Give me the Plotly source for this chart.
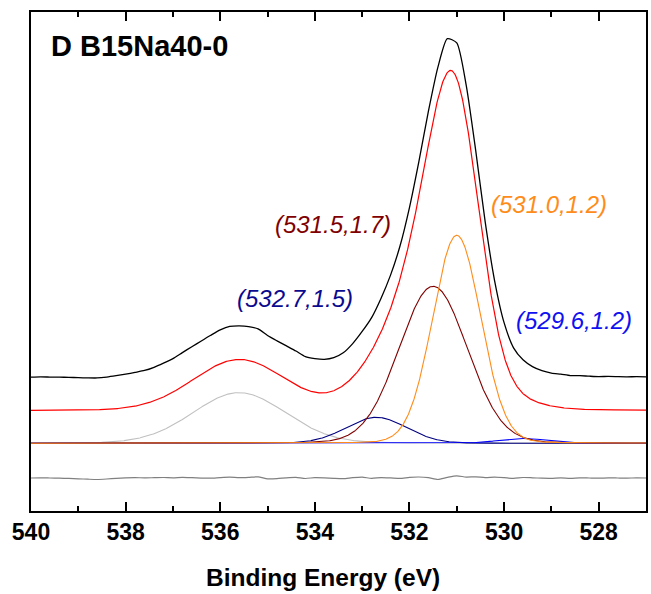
import numpy as np
import plotly.graph_objects as go

# ---- O 1s peak fit parameters: centre (eV), FWHM (eV), height (a.u.) ----
peak_centres = [535.6, 532.7, 529.6, 531.5, 531.0]
peak_fwhm = [2.3, 1.5, 1.2, 1.7, 1.2]
peak_heights = [50.7, 26.0, 4.8, 157.0, 208.0]
peak_colors = ["#C0C0C0", "#000080", "#0000FF", "#800000", "#FF8C1A"]
lorentz_fraction = 0.05

# labelled components: text, colour, label position (eV, a.u.)
label_texts = ["(532.7,1.5)", "(531.5,1.7)", "(531.0,1.2)", "(529.6,1.2)"]
label_colors = ["#0A0A8F", "#7F0000", "#FF8C1A", "#1010F0"]
label_x = [534.42, 533.62, 529.05, 528.52]
label_y = [145.3, 219.3, 239.3, 123.3]

# residual (measured - fit), sampled every 0.2 eV from 540.0 down to 527.0
residual = [
    0.0, 0.2, 0.0, -0.2, -0.4, -0.8, -1.2, -1.5, -1.0, -0.3,
    0.2, 0.4, 0.1, 0.3, 0.5, 0.2, 0.6, 0.3, -0.1, -0.2,
    0.4, 0.8, 0.3, 0.6, 1.2, -0.8, -0.6, 0.2, 0.6, -0.5,
    0.4, 0.2, -0.3, -0.6, 0.3, 0.8, -0.3, 0.4, 0.1, -0.4,
    0.6, 1.0, 0.3, -1.5, 0.6, 2.2, 0.9, 1.2, 0.4, 0.8,
    0.3, -0.4, 0.5, 0.2, -0.2, -0.3, 0.1, -0.3, 0.2, 0.0,
    -0.2, 0.1, 0.0, -0.1, 0.1, 0.0,
]
energy_start, energy_step = 540.0, -0.2

# vertical stacking offsets (a.u.)
envelope_shift = 32.6
data_shift = 65.9
residual_shift = -34.7

x_ticks = [540, 538, 536, 534, 532, 530, 528]
x_range = [540, 527]
y_range = [-67.7, 431.3]


def gl_peak(e, centre, fwhm, height, m=lorentz_fraction):
    u = (e - centre) / fwhm
    gauss = np.exp(-4 * np.log(2) * u ** 2)
    lorentz = 1.0 / (1.0 + 4 * u ** 2)
    return height * ((1 - m) * gauss + m * lorentz)


def envelope(e):
    return sum(gl_peak(e, c, w, h) for c, w, h in zip(peak_centres, peak_fwhm, peak_heights))


e_fine = np.linspace(540, 527, 1301)
e_data = energy_start + energy_step * np.arange(len(residual))
res = np.array(residual)

fig = go.Figure()

# components
for c, w, h, col in zip(peak_centres, peak_fwhm, peak_heights, peak_colors):
    fig.add_trace(go.Scatter(x=e_fine, y=gl_peak(e_fine, c, w, h), mode="lines",
                             line=dict(color=col, width=1.1), hoverinfo="skip"))

# fit envelope
fig.add_trace(go.Scatter(x=e_fine, y=envelope(e_fine) + envelope_shift, mode="lines",
                         line=dict(color="#FF0000", width=1.2)))

# measured spectrum
fig.add_trace(go.Scatter(x=e_data, y=envelope(e_data) + res + data_shift, mode="lines",
                         line=dict(color="#000000", width=1.3, shape="spline", smoothing=0.6)))

# residual
fig.add_trace(go.Scatter(x=e_data, y=res + residual_shift, mode="lines",
                         line=dict(color="#808080", width=1.2, shape="spline", smoothing=0.6)))

font_family = "Liberation Sans, Arial, sans-serif"

for t, col, lx, ly in zip(label_texts, label_colors, label_x, label_y):
    fig.add_annotation(x=lx, y=ly, xref="x", yref="y", text="<i>%s</i>" % t,
                       showarrow=False, xanchor="center", yanchor="middle",
                       font=dict(family=font_family, size=24, color=col))

fig.add_annotation(x=539.62, y=397.3, xref="x", yref="y", text="<b>D B15Na40-0</b>",
                   showarrow=False, xanchor="left", yanchor="middle",
                   font=dict(family=font_family, size=29, color="#000000"))

# x-axis title
fig.add_annotation(x=0.474, y=-0.1323, xref="paper", yref="paper",
                   text="<b>Binding Energy (eV)</b>", showarrow=False,
                   xanchor="center", yanchor="middle",
                   font=dict(family=font_family, size=24.5, color="#000000"))

fig.update_layout(
    width=651, height=594,
    margin=dict(l=31, r=3, t=12, b=83),
    plot_bgcolor="white", paper_bgcolor="white",
    showlegend=False,
    font=dict(family=font_family, color="#000000"),
)

fig.update_xaxes(
    range=x_range, tickvals=x_ticks, ticktext=[str(v) for v in x_ticks],
    ticks="inside", ticklen=9, tickwidth=1.5, tickcolor="#000000",
    minor=dict(ticks="inside", ticklen=5, tickwidth=1.5, dtick=1, tick0=540, tickcolor="#000000"),
    showline=True, linecolor="#000000", linewidth=1.5, mirror="ticks",
    showgrid=False, zeroline=False,
    tickfont=dict(family=font_family, size=23, color="#000000", weight="bold"),
)

fig.update_yaxes(
    range=y_range, showline=True, linecolor="#000000", linewidth=1.5, mirror=True,
    ticks="", showticklabels=False, showgrid=False, zeroline=False,
)

fig.write_html("out.html")
